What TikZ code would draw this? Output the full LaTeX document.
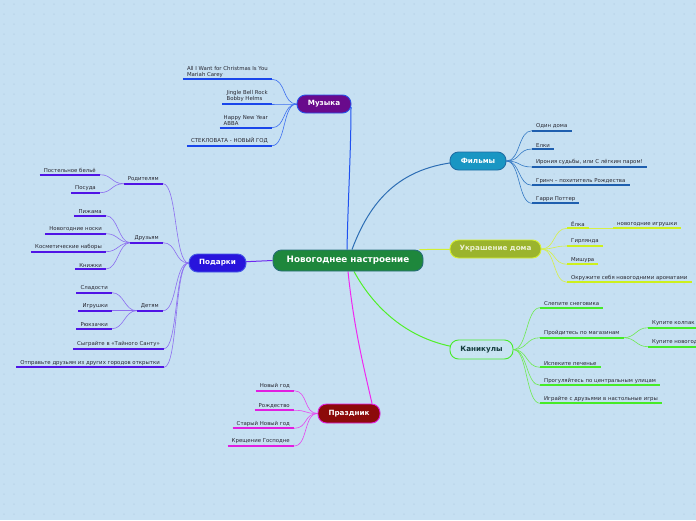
\documentclass[tikz,border=0pt]{standalone}
\usepackage{fontspec}
\setmainfont{DejaVu Sans}
\definecolor{bgc}{RGB}{198,224,242}
\definecolor{dotc}{RGB}{180,207,229}
\definecolor{leafc}{RGB}{40,40,50}
\definecolor{cenF}{RGB}{30,135,60}\definecolor{cenD}{RGB}{40,110,120}
\definecolor{musF}{RGB}{105,10,140}\definecolor{musD}{RGB}{40,80,235}\definecolor{musC}{RGB}{60,110,240}\definecolor{musU}{RGB}{25,70,235}\definecolor{musL}{RGB}{30,80,240}
\definecolor{filF}{RGB}{25,150,195}\definecolor{filD}{RGB}{30,110,165}\definecolor{filC}{RGB}{50,120,195}\definecolor{filU}{RGB}{30,95,175}\definecolor{filL}{RGB}{45,110,180}
\definecolor{decF}{RGB}{155,180,45}\definecolor{decD}{RGB}{215,240,50}\definecolor{decT}{RGB}{235,240,210}\definecolor{decC}{RGB}{215,240,70}\definecolor{decU}{RGB}{205,240,30}\definecolor{decL}{RGB}{210,240,50}
\definecolor{holF}{RGB}{200,228,242}\definecolor{holD}{RGB}{70,235,40}\definecolor{holT}{RGB}{20,60,60}\definecolor{holC}{RGB}{110,235,80}\definecolor{holU}{RGB}{70,235,40}\definecolor{holL}{RGB}{80,240,40}
\definecolor{praF}{RGB}{140,10,10}\definecolor{praD}{RGB}{225,30,225}\definecolor{praC}{RGB}{230,70,240}\definecolor{praU}{RGB}{225,30,225}\definecolor{praL}{RGB}{240,40,240}
\definecolor{gifF}{RGB}{40,20,220}\definecolor{gifD}{RGB}{70,90,230}\definecolor{gifC}{RGB}{140,110,240}\definecolor{gifU}{RGB}{80,20,230}\definecolor{gifL}{RGB}{110,40,240}
\pgfdeclarelayer{back}\pgfdeclarelayer{links}
\pgfsetlayers{back,links,main}
\begin{document}
\begin{tikzpicture}[x=1pt,y=-1pt,
  lf/.style={font=\fontsize{5.4}{6}\selectfont, text=leafc, inner xsep=4pt, inner ysep=1.8pt, align=left},
  lr/.style={lf, anchor=south west},
  ll/.style={lf, anchor=south east},
  topic/.style={rounded corners=8.5pt, minimum height=18pt, inner sep=0pt, line width=0.9pt, font=\fontsize{7.2}{8}\selectfont\bfseries, text=white},
  con/.style={line width=0.6pt},
  ul/.style={line width=1.7pt},
]
\useasboundingbox (0,0) rectangle (696,520);
\clip (0,0) rectangle (696,520);
% main nodes
\node[topic, fill=cenF, draw=cenD, minimum width=150pt, minimum height=21pt, font=\fontsize{8.8}{10}\selectfont\bfseries] (cen) at (348,260.5) {Новогоднее настроение};
\node[topic, fill=musF, draw=musD, minimum width=54pt] (mus) at (324,104) {Музыка};
\node[topic, fill=filF, draw=filD, minimum width=56pt] (fil) at (478,161) {Фильмы};
\node[topic, fill=decF, draw=decD, minimum width=91pt, text=decT] (dec) at (495.5,249) {Украшение дома};
\node[topic, fill=holF, draw=holD, minimum width=63pt, minimum height=19pt, text=holT] (hol) at (481.5,349.5) {Каникулы};
\node[topic, fill=praF, draw=praD, minimum width=62pt, minimum height=19pt] (pra) at (349,413.5) {Праздник};
\node[topic, fill=gifF, draw=gifD, minimum width=57pt] (gif) at (217.5,263) {Подарки};
% music leaves
\node[ll] (m1) at (272,79.3) {All I Want for Christmas Is You\\Mariah Carey};
\node[ll] (m2) at (272,104) {Jingle Bell Rock\\Bobby Helms};
\node[ll] (m3) at (272,127.7) {Happy New Year\\ABBA};
\node[ll] (m4) at (272,145.7) {СТЕКЛОВАТА - НОВЫЙ ГОД};
% films
\node[lr] (f1) at (532,130.7) {Один дома};
\node[lr] (f2) at (532,149) {Елки};
\node[lr] (f3) at (532,167) {Ирония судьбы, или С лёгким паром!};
\node[lr] (f4) at (532,185.3) {Гринч – похититель Рождества};
\node[lr] (f5) at (532,203.3) {Гарри Поттер};
% decoration
\node[lr] (d1) at (567,228.3) {Ёлка};
\node[lr] (d1a) at (613,228.3) {новогодние игрушки};
\node[lr] (d2) at (567,246) {Гирлянда};
\node[lr] (d3) at (567,264.3) {Мишура};
\node[lr] (d4) at (567,282.3) {Окружите себя новогодними ароматами};
% holidays
\node[lr] (h1) at (540,307.7) {Слепите снеговика};
\node[lr] (h2) at (540,337.7) {Пройдитесь по магазинам};
\node[lr] (h2a) at (648,327.7) {Купите колпак};
\node[lr] (h2b) at (648,346.7) {Купите новогодний свитер};
\node[lr] (h3) at (540,367.3) {Испеките печенье};
\node[lr] (h4) at (540,385.3) {Прогуляйтесь по центральным улицам};
\node[lr] (h5) at (540,403.3) {Играйте с друзьями в настольные игры};
% prazdnik
\node[ll] (p1) at (294,390.7) {Новый год};
\node[ll] (p2) at (294,410.3) {Рождество};
\node[ll] (p3) at (294,428.3) {Старый Новый год};
\node[ll] (p4) at (294,446) {Крещение Господне};
% gifts
\node[ll] (g1) at (163,183.7) {Родителям};
\node[ll] (g2) at (163,242.7) {Друзьям};
\node[ll] (g3) at (163,310.7) {Детям};
\node[ll] (g4) at (164,348.7) {Сыграйте в «Тайного Санту»};
\node[ll] (g5) at (164,367.3) {Отправьте друзьям из других городов открытки};
\node[ll] (g1a) at (100,174.7) {Постельное бельё};
\node[ll] (g1b) at (100,192.7) {Посуда};
\node[ll] (g2a) at (106,215.7) {Пижама};
\node[ll] (g2b) at (106,233.7) {Новогодние носки};
\node[ll] (g2c) at (106,251.7) {Косметические наборы};
\node[ll] (g2d) at (106,269) {Книжки};
\node[ll] (g3a) at (112,292.7) {Сладости};
\node[ll] (g3b) at (112,310.7) {Игрушки};
\node[ll] (g3c) at (112,328.7) {Рюкзачки};

\begin{pgfonlayer}{back}
\fill[bgc] (0,0) rectangle (696,520);
\foreach \i in {0,...,69}{\foreach \j in {0,...,52}{\fill[dotc] (\i*10+4,\j*10+4) circle (0.75);}}
\end{pgfonlayer}

\begin{pgfonlayer}{links}
% central links
\draw[musL, line width=1pt] ([xshift=-1pt]cen.north) .. controls (348,200) and (351,150) .. ([xshift=27pt,yshift=-3pt]mus.center);
\draw[filL, line width=1pt] ([xshift=4pt]cen.north) .. controls (372,196) and (405,161) .. (fil.center);
\draw[decL, line width=1pt] ([xshift=-4pt]cen.north east) -- (dec.center);
\draw[holL, line width=1pt] ([xshift=6pt]cen.south) .. controls (375,310) and (415,349) .. (hol.center);
\draw[praL, line width=1pt] (cen.south) .. controls (354,330) and (365,372) .. ([xshift=23pt]pra.north);
\draw[gifL, line width=1pt] (cen.west) -- (gif.center);
% music
\foreach \n in {m1,m2,m3,m4}{\draw[con, musC] (mus.west) .. controls +(-14,0) and +(14,0) .. (\n.south east);
  \draw[ul, musU] (\n.south west) -- (\n.south east);}
% films
\foreach \n in {f1,f2,f3,f4,f5}{\draw[con, filC] (fil.east) .. controls +(14,0) and +(-14,0) .. (\n.south west);
  \draw[ul, filU] (\n.south west) -- (\n.south east);}
% decoration
\foreach \n in {d1,d2,d3,d4}{\draw[con, decC] (dec.east) .. controls +(14,0) and +(-14,0) .. (\n.south west);}
\draw[con, decC] (d1.south east) -- (d1a.south west);
\foreach \n in {d1,d1a,d2,d3,d4}{\draw[ul, decU] (\n.south west) -- (\n.south east);}
% holidays
\foreach \n in {h1,h2,h3,h4,h5}{\draw[con, holC] (hol.east) .. controls +(14,0) and +(-14,0) .. (\n.south west);}
\foreach \n in {h2a,h2b}{\draw[con, holC] (h2.south east) .. controls +(12,0) and +(-12,0) .. (\n.south west);}
\foreach \n in {h1,h2,h2a,h2b,h3,h4,h5}{\draw[ul, holU] (\n.south west) -- (\n.south east);}
% prazdnik
\foreach \n in {p1,p2,p3,p4}{\draw[con, praC] (pra.west) .. controls +(-14,0) and +(14,0) .. (\n.south east);
  \draw[ul, praU] (\n.south west) -- (\n.south east);}
% gifts
\foreach \n in {g1,g2,g3,g4,g5}{\draw[con, gifC] (gif.west) .. controls +(-14,0) and +(14,0) .. (\n.south east);}
\foreach \n in {g1a,g1b}{\draw[con, gifC] (g1.south west) .. controls +(-12,0) and +(12,0) .. (\n.south east);}
\foreach \n in {g2a,g2b,g2c,g2d}{\draw[con, gifC] (g2.south west) .. controls +(-12,0) and +(12,0) .. (\n.south east);}
\foreach \n in {g3a,g3b,g3c}{\draw[con, gifC] (g3.south west) .. controls +(-12,0) and +(12,0) .. (\n.south east);}
\foreach \n in {g1,g2,g3,g4,g5,g1a,g1b,g2a,g2b,g2c,g2d,g3a,g3b,g3c}{\draw[ul, gifU] (\n.south west) -- (\n.south east);}
\end{pgfonlayer}
\end{tikzpicture}
\end{document}
